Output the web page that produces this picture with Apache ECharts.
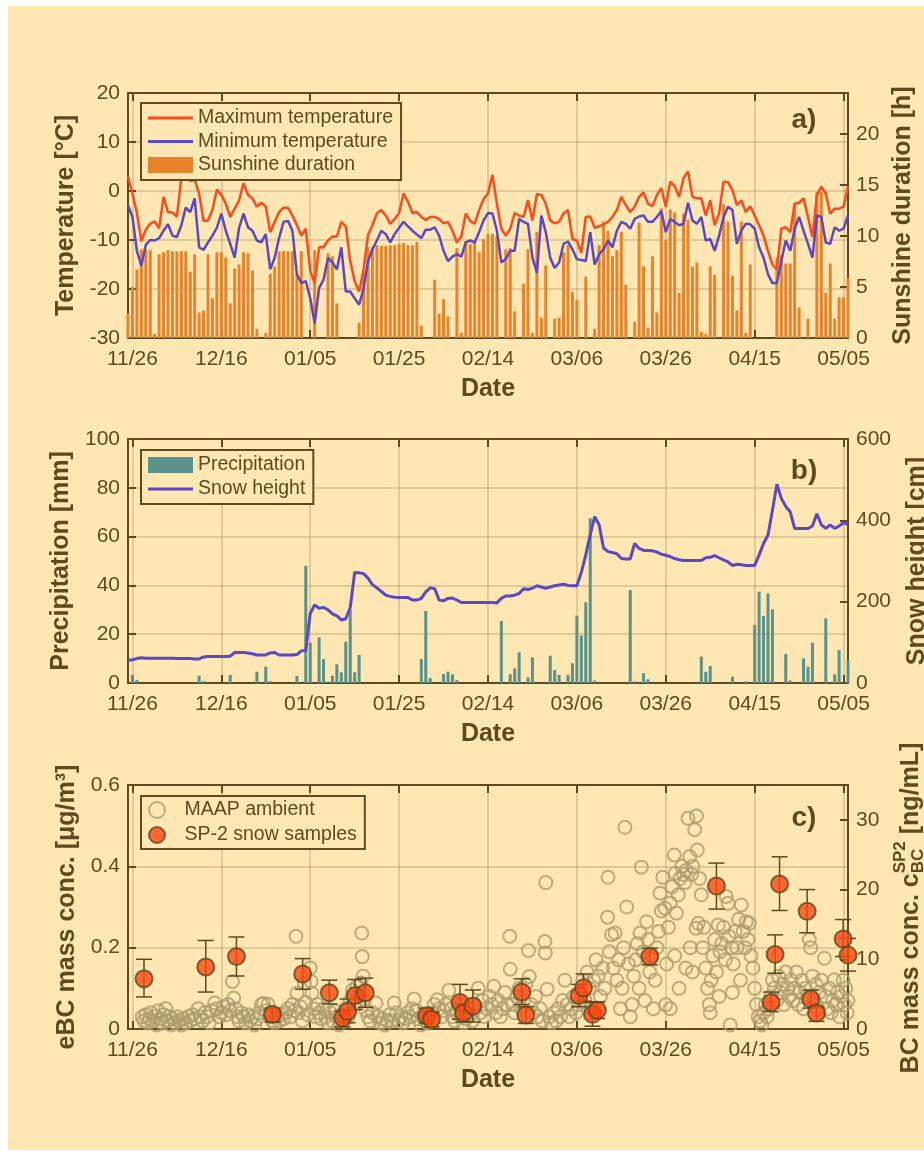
<!DOCTYPE html>
<html><head><meta charset="utf-8">
<script src="https://cdn.jsdelivr.net/npm/echarts@6/dist/echarts.min.js"></script>
<style>html,body{margin:0;padding:0;background:#fff;}#c{width:924px;height:1156px;}</style>
</head><body><div id="c"></div>
<script>
// ---------------- DATA ----------------
// daily series start on 11/25 (day -1 relative to 11/26) and end 05/06 (day 161)
const firstDay = -1;
const xTickDays = [0, 20, 40, 60, 80, 100, 120, 140, 160];
const xTickLabels = ['11/26', '12/16', '01/05', '01/25', '02/14', '03/06', '03/26', '04/15', '05/05'];

const tMax = [3.0,-0.5,-4.5,-10.2,-7.9,-6.7,-6.2,-7.6,-1.2,-4.3,-4.4,
 -5.2,2.6,4.0,2.0,2.3,-0.5,-6.1,-6.0,-3.9,0.3,
 -0.8,-2.6,-5.3,-3.6,-1.9,1.6,-0.8,-1.5,-3.2,-2.4,
 -3.2,-8.4,-6.3,-4.3,-3.4,-3.4,-5.0,-7.0,-9.1,-7.7,
 -16.3,-18.8,-11.5,-11.5,-10.1,-9.3,-9.3,-6.3,-7.2,-14.3,
 -18.4,-20.5,-16.0,-9.0,-7.0,-4.6,-3.9,-5.0,-6.7,-5.7,
 -4.5,-0.5,-2.2,-4.5,-4.3,-5.3,-5.9,-5.3,-5.3,-5.7,
 -6.6,-6.3,-8.1,-10.5,-9.3,-4.6,-6.1,-6.7,-3.9,-1.7,
 -0.5,3.3,-2.6,-7.7,-9.1,-7.7,-4.5,-5.0,-5.3,-1.9,
 -6.0,-0.6,-0.8,-2.6,-6.0,-6.6,-6.3,-4.6,-3.9,-9.8,
 -10.1,-12.6,-5.3,-5.2,-7.5,-7.2,-6.8,
 -6.3,-5.3,-3.9,-1.2,-2.9,-4.3,-3.2,-1.2,-0.3,-2.6,
 -3.1,-0.8,0.6,-3.2,1.9,1.0,-1.2,2.6,4.0,-1.2,
 -1.5,-1.5,-5.0,-1.9,-7.0,-4.6,1.9,1.8,0.2,-2.9,
 -1.9,-4.3,-3.1,-5.0,-7.0,-9.1,-12.2,-15.0,-16.0,-7.7,
 -7.4,-8.4,-2.6,-2.4,-1.5,-5.3,-9.4,-0.8,0.9,-0.5,
 -4.6,-3.6,-3.6,-3.2,0.9];

const tMin = [-2.9,-5.3,-12.2,-15.3,-11.0,-10.0,-10.1,-9.6,-8.1,-6.8,-9.1,
 -9.4,-7.0,-3.4,-4.3,-1.5,-11.5,-12.0,-10.5,-9.1,-7.5,
 -4.6,-8.1,-10.8,-13.6,-7.5,-4.6,-7.4,-8.1,-10.1,-10.5,
 -8.8,-16.0,-13.6,-9.6,-6.3,-6.1,-8.1,-17.0,-18.8,-18.4,
 -21.9,-27.0,-19.8,-18.1,-13.6,-14.6,-16.0,-11.5,-20.5,-20.5,
 -21.9,-23.2,-20.0,-14.3,-11.9,-10.1,-8.1,-8.8,-10.5,-8.8,
 -7.5,-6.3,-7.2,-8.1,-8.9,-9.6,-7.9,-7.9,-7.4,-9.1,
 -12.2,-14.3,-13.4,-12.9,-13.4,-10.5,-10.1,-10.5,-8.4,-6.0,
 -4.5,-4.6,-8.1,-14.6,-13.9,-12.2,-12.2,-5.7,-6.3,-6.7,
 -13.6,-16.7,-5.0,-8.4,-13.6,-15.7,-14.6,-10.8,-10.3,-11.9,
 -13.9,-14.1,-14.3,-8.4,-15.0,-12.9,-11.9,
 -10.1,-11.5,-8.1,-6.3,-6.7,-7.7,-5.7,-5.2,-5.0,-6.3,
 -6.3,-5.3,-4.1,-8.4,-5.7,-6.3,-7.0,-6.7,-2.4,-6.0,
 -6.7,-5.3,-10.1,-9.8,-12.2,-9.1,-5.3,-3.2,-3.9,-10.8,
 -8.1,-6.7,-6.8,-7.7,-11.5,-13.6,-17.0,-18.8,-18.8,-14.3,
 -10.1,-12.2,-7.7,-5.3,-8.1,-10.8,-13.6,-5.0,-5.3,-10.5,
 -10.8,-7.4,-8.1,-7.7,-5.0];

const sunshine = [2.4,5.0,6.7,8.7,8.7,8.6,0.4,8.2,8.4,8.6,
 8.5,8.5,8.5,8.5,6.5,8.2,2.5,2.7,8.2,3.9,
 8.4,8.4,7.9,3.4,6.8,7.2,8.4,8.3,6.6,0.9,
 0,0.5,6.3,7.0,8.5,8.5,8.5,8.5,6.3,8.5,
 0,0,8.6,0,0,8.3,8.0,3.4,0,0,
 0,0,1.5,6.5,8.9,8.9,9.1,9.0,9.0,9.1,
 9.1,9.2,9.3,9.1,9.1,9.4,1.2,0,0,5.7,
 2.4,3.8,2.1,0,8.8,0.5,9.5,9.2,9.4,8.4,
 9.7,10.2,10.2,10.0,0,8.7,8.8,2.6,0,5.3,
 8.7,0.5,10.4,2.0,7.1,0,1.9,2.0,8.4,9.1,
 4.5,3.7,0,6.0,0,0.9,9.1,11.4,10.5,8.0,
 8.6,10.4,5.2,0,1.6,11.3,7.0,1.0,8.0,2.5,
 12.7,9.6,12.6,12.3,4.4,12.2,11.6,7.0,7.4,0.6,
 0.4,7.0,6.2,0,13.1,11.4,6.1,2.7,11.4,0.5,
 7.2,0,0,0,0,0,7.9,8.1,7.3,7.3,
 13.1,3.0,0,1.9,0,14.3,14.3,4.4,7.3,1.9,
 4.0,4.0,5.9];

const precipitation = [0,3.3,1.2,0,0,0,0,0,0,0,
 0,0,0,0,0,0,3.0,0.8,0,0,
 0,0,0,3.3,0,0,0,0,0,4.6,
 0,6.7,0.8,0,0,0,0,0,2.9,0,
 48.0,16.5,0,18.7,9.8,0,3.0,7.7,4.4,16.9,
 30.0,4.4,11.5,0,0,0,0,0,0,0,
 0,0,0,0,0,0,9.8,29.5,2.0,0,
 0,3.7,4.6,3.6,1.2,0,0,0,0,0,
 0,0,0,0,25.4,0,3.6,6.0,12.6,0,
 2.3,10.5,0,0,0,11.2,5.3,3.3,0,3.3,
 8.1,27.6,19.5,33.1,67.5,1.0,0,0,0,0,
 0,0,0,38.1,0.7,0,4.0,1.5,0,0,
 0,0,0,0,0,0,0,0,0,10.8,
 4.6,7.0,0,0,0,0,2.6,0,0,0.7,
 0,23.8,37.4,27.5,36.7,30.2,0,0,11.9,1.0,
 0,0,10.1,6.7,16.5,0,0,26.5,0,3.6,
 13.5,0,9.4];

const snowHeight = [56,57,60,62,61,61,61,61,61,61,
 61,60,60,60,60,59,59,64,65,65,
 65,65,65,66,75,75,75,74,72,69,
 69,69,74,75,69,69,69,69,70,79,
 80,171,192,184,186,180,170,165,155,158,
 185,272,271,269,258,242,234,225,216,213,
 211,210,210,210,204,204,208,224,234,232,
 204,202,208,209,204,198,198,198,198,198,
 198,198,198,197,208,214,214,216,220,232,
 230,233,239,236,233,236,239,241,243,240,
 239,239,272,315,365,409,389,332,323,321,
 318,306,305,305,343,331,326,326,325,322,
 317,314,311,306,303,301,301,301,301,301,
 308,309,313,308,303,298,289,292,291,289,
 289,289,315,343,364,425,489,454,434,421,
 380,380,380,380,386,416,389,380,389,380,
 386,394,390];

// MAAP ambient eBC [day, ug/m3]
const maap = [[2.2,0.03],[2.6,0.02],[3.0,0.035],[3.4,0.015],[3.8,0.025],[4.2,0.04],[4.6,0.02],[5.0,0.03],[5.4,0.01],[5.8,0.045],[6.3,0.025],[6.7,0.015],[7.1,0.035],[7.5,0.05],[7.9,0.02],[8.3,0.03],[8.7,0.01],[9.1,0.025],[9.6,0.015],[10.0,0.03],
[10.5,0.02],[11.0,0.01],[11.5,0.025],[12.0,0.015],[12.5,0.03],[13.0,0.02],[13.5,0.035],[14.0,0.025],[14.8,0.05],[15.3,0.03],[15.8,0.02],[16.3,0.04],[16.8,0.03],[17.3,0.015],[17.8,0.045],[18.5,0.064],[19.0,0.05],[19.5,0.03],[20.0,0.04],
[20.5,0.055],[21.0,0.035],[21.5,0.06],[22.0,0.045],[22.5,0.117],[22.8,0.076],[23.2,0.05],[23.6,0.03],[24.0,0.02],[24.5,0.04],
[25.0,0.03],[25.5,0.015],[26.0,0.035],[26.5,0.02],[27.0,0.03],[27.5,0.01],[28.0,0.025],[28.5,0.04],[29.0,0.06],[29.5,0.063],[30.0,0.045],[30.5,0.061],[31.0,0.03],[31.5,0.02],[32.0,0.015],[32.5,0.03],[33.0,0.02],[33.5,0.035],[34.0,0.025],[34.5,0.04],
[35.0,0.05],[35.5,0.03],[36.0,0.06],[36.5,0.045],[36.8,0.228],[37.0,0.088],[37.3,0.04],[37.8,0.055],[38.2,0.02],[38.7,0.113],[39.0,0.065],[39.4,0.035],[40.0,0.15],[40.2,0.117],[40.4,0.088],[40.8,0.05],[41.2,0.03],[41.6,0.06],[42.0,0.04],
[42.5,0.025],[43.0,0.05],[43.5,0.03],[44.0,0.015],[44.5,0.04],[45.0,0.02],[45.5,0.045],[46.0,0.03],[46.5,0.01],[47.0,0.035],[47.5,0.02],[48.0,0.05],[48.5,0.03],[49.0,0.07],[49.5,0.095],[50.0,0.06],
[50.5,0.105],[51.0,0.08],[51.3,0.113],[51.6,0.236],[51.7,0.178],[51.9,0.13],[52.2,0.07],[52.6,0.045],[53.0,0.03],
[53.5,0.02],[54.0,0.04],[54.8,0.064],[55.3,0.03],[55.8,0.015],[56.3,0.025],[56.8,0.01],[57.3,0.02],[57.8,0.035],[58.3,0.02],[58.9,0.064],[59.4,0.04],[59.9,0.02],
[60.4,0.03],[60.9,0.015],[61.4,0.025],[61.9,0.04],[62.4,0.03],[62.9,0.05],[63.4,0.074],[63.9,0.045],[64.4,0.025],[64.9,0.01],[65.4,0.03],[65.9,0.02],[66.4,0.015],[66.9,0.035],[67.4,0.04],[67.9,0.06],[68.6,0.072],[69.0,0.05],[69.5,0.03],[70.0,0.045],[70.5,0.06],[71.2,0.095],[71.6,0.05],
[72.0,0.03],[72.5,0.02],[73.0,0.04],[73.5,0.06],[74.0,0.03],[74.5,0.015],[75.0,0.025],[75.5,0.05],[76.0,0.035],[76.5,0.02],[77.0,0.06],[77.8,0.1],[78.3,0.04],[78.8,0.07],[79.3,0.03],[79.8,0.05],[80.3,0.08],[80.8,0.06],[81.3,0.105],[81.8,0.04],[82.3,0.07],[82.8,0.03],[83.3,0.05],[83.8,0.09],[84.3,0.06],[84.9,0.228],[85.0,0.147],
[85.5,0.06],[86.0,0.04],[86.5,0.08],[87.0,0.1],[87.5,0.05],[88.0,0.07],[88.5,0.11],[89.1,0.193],[89.3,0.129],[89.7,0.06],[90.2,0.04],[90.7,0.08],[91.2,0.03],[91.7,0.05],[92.2,0.02],[92.8,0.215],[92.9,0.187],[93.0,0.36],[93.3,0.098],
[93.8,0.03],[94.3,0.015],[94.8,0.04],[95.3,0.02],[95.8,0.05],[96.3,0.03],[96.8,0.07],[97.3,0.12],[97.8,0.06],[98.3,0.03],[98.8,0.05],[99.3,0.08],[99.8,0.04],
[100.3,0.06],[100.8,0.09],[101.3,0.12],[101.8,0.07],[102.3,0.14],[102.8,0.1],[103.3,0.05],[103.8,0.12],[104.3,0.17],[104.8,0.13],[105.3,0.08],[105.8,0.15],[106.3,0.1],
[106.9,0.275],[107.0,0.373],[107.3,0.19],[107.8,0.232],[108.2,0.15],[108.6,0.236],[109.0,0.12],[109.4,0.17],[109.8,0.05],[110.2,0.1],[110.5,0.2],[110.8,0.496],[111.2,0.30],[111.6,0.16],[112.0,0.03],
[112.4,0.06],[112.8,0.13],[113.2,0.17],[113.6,0.21],[114.0,0.1],[114.2,0.236],[114.5,0.398],[114.9,0.19],[115.3,0.07],[115.7,0.264],[116.0,0.22],[116.4,0.14],[116.8,0.18],[117.2,0.05],[117.6,0.12],[118.0,0.2],[118.4,0.24],[118.7,0.334],[119.0,0.29],[119.3,0.373],[119.8,0.297],[120.2,0.16],
[120.6,0.25],[121.0,0.31],[121.4,0.35],[121.9,0.428],[122.1,0.383],[122.4,0.285],[122.8,0.33],[123.2,0.37],[123.6,0.4],[124.0,0.38],[124.3,0.36],[124.6,0.39],[125.0,0.518],[125.4,0.424],[125.8,0.38],[126.1,0.40],[126.5,0.49],[126.9,0.524],[127.1,0.44],[127.3,0.26],[126.8,0.248],[127.6,0.37],[128.0,0.33],[128.3,0.2],[128.6,0.25],
[121.0,0.05],[123.0,0.1],[124.5,0.15],[125.5,0.2],[126.0,0.14],[122.0,0.18],[120.0,0.06],
[129.0,0.15],[129.4,0.1],[129.8,0.06],[130.2,0.12],[130.6,0.18],[131.0,0.22],[131.4,0.14],[131.8,0.256],[132.2,0.19],[132.6,0.21],[133.0,0.25],[133.4,0.17],[133.6,0.326],[134.0,0.309],[134.2,0.228],[134.5,0.01],[134.8,0.2],[135.2,0.16],[135.6,0.24],[136.0,0.2],[136.4,0.27],[137.0,0.305],[137.4,0.24],[137.8,0.2],[138.1,0.264],[138.5,0.22],[138.8,0.26],[139.2,0.18],[139.6,0.15],[130.0,0.04],[132.0,0.08],[136.8,0.12],[135.0,0.09],
[140.0,0.1],[140.4,0.06],[140.8,0.03],[141.2,0.02],[141.6,0.01],[142.0,0.04],[142.4,0.06],[142.8,0.03],[143.2,0.05],[143.6,0.08],[144.0,0.12],[144.4,0.1],
[145.0,0.07],[145.4,0.13],[145.8,0.09],[146.2,0.11],[146.6,0.06],[147.0,0.14],[147.4,0.1],[147.8,0.08],[148.2,0.12],[148.6,0.07],[149.0,0.1],[149.4,0.14],[149.8,0.06],[150.2,0.09],[150.6,0.12],[151.0,0.05],[151.4,0.1],[151.8,0.08],[152.3,0.22],[152.6,0.2],[153.0,0.13],[153.4,0.07],[153.8,0.11],[154.2,0.05],[154.6,0.09],[155.0,0.12],
[155.7,0.174],[156.0,0.08],[156.4,0.05],[156.8,0.1],[157.2,0.04],[157.6,0.07],[157.9,0.121],[158.3,0.06],[158.7,0.09],[159.1,0.03],[159.5,0.08],[159.9,0.12],[160.2,0.06],[160.5,0.1],[160.8,0.04],[161.0,0.07]];

// SP-2 snow samples [day, value ng/mL, error low, error high]
const sp2 = [[2.6,7.2,4.6,10.0],[16.5,8.9,5.3,12.7],[23.4,10.4,7.6,13.2],[31.5,2.1,1.0,3.0],[38.3,7.9,5.7,10.1],
[44.3,5.2,3.6,7.0],[47.3,1.6,0.3,2.6],[48.4,2.5,0.9,4.3],[50.1,4.8,2.8,7.1],[52.4,5.2,3.1,7.3],
[66.2,1.9,0.9,3.0],[67.3,1.4,0.3,2.4],[73.7,3.8,1.4,6.4],[74.5,2.3,1.0,3.6],[76.6,3.3,1.0,5.6],
[87.6,5.3,3.5,7.2],[88.5,2.0,0.8,3.2],[100.5,4.8,3.2,6.4],[101.5,5.9,4.0,7.9],[103.5,2.1,0.4,3.8],[104.6,2.7,1.5,3.9],
[116.4,10.4,9.2,11.6],[131.4,20.5,17.2,23.8],[143.7,3.8,2.5,5.3],[144.6,10.7,8.0,13.5],[145.6,20.8,17.0,24.7],
[151.8,16.9,13.8,20.0],[152.6,4.3,3.0,5.6],[153.9,2.3,1.1,3.2],[159.9,12.9,10.4,15.7],[161.0,10.6,8.3,13.0]];

// right-axis tick labels
const sunTicks = [0, 5, 10, 15, 20];
const sp2Ticks = [0, 10, 20, 30];

// ---------------- STYLE ----------------
const F = '"Liberation Sans", Arial, Helvetica, sans-serif';
const BROWN = '#5E4A1C';
const GRIDC = 'rgba(110,90,40,0.2)';
const BG = '#FEE7B3';
const RED = '#FF4A1C', BLUE = '#5A48C4', ORANGE = '#E8832C', TEAL = '#5B928A';
// thin horizontal line inside a 45x16 legend box
const LINE_ICON = 'path://M0,0L0.01,0M0,6.5L45,6.5L45,9.5L0,9.5ZM45,16L44.99,16';

const daily = arr => arr.map((v, i) => [firstDay + i, v]);

function xAx(gi, bottom) {
  return {
    type: 'value', gridIndex: gi, min: -1, max: 161, position: bottom ? 'bottom' : 'top',
    axisLine: {show: true, onZero: false, lineStyle: {color: BROWN, width: 2}},
    axisTick: {show: true, inside: true, length: 8, customValues: xTickDays, lineStyle: {color: BROWN, width: 2}},
    axisLabel: {show: bottom, customValues: xTickDays, formatter: v => xTickLabels[xTickDays.indexOf(v)],
      color: BROWN, fontSize: 21, fontFamily: F, margin: 11},
    splitLine: {show: bottom, lineStyle: {color: GRIDC, width: 2}},
    name: bottom ? 'Date' : '', nameLocation: 'middle', nameGap: 39,
    nameTextStyle: {color: BROWN, fontSize: 25, fontWeight: 'bold', fontFamily: F}
  };
}
function yAx(gi, right, min, max, interval, name, custom, gap) {
  const o = {
    type: 'value', gridIndex: gi, min: min, max: max, position: right ? 'right' : 'left',
    axisLine: {show: true, onZero: false, lineStyle: {color: BROWN, width: 2}},
    axisTick: {show: true, inside: true, length: 8, lineStyle: {color: BROWN, width: 2}},
    axisLabel: {color: BROWN, fontSize: 21, fontFamily: F, margin: 8},
    splitLine: {show: !right, lineStyle: {color: GRIDC, width: 2}},
    name: name, nameLocation: 'middle', nameRotate: 90, nameGap: gap,
    nameTextStyle: {color: BROWN, fontSize: 25, fontWeight: 'bold', fontFamily: F}
  };
  if (interval) o.interval = interval;
  if (custom) { o.axisTick.customValues = custom; o.axisLabel.customValues = custom; }
  return o;
}
function legend(items, top, padding, gap) {
  return {
    show: true, orient: 'vertical', left: 141, top: top, data: items,
    backgroundColor: BG, borderColor: BROWN, borderWidth: 2, borderRadius: 0,
    padding: padding, itemGap: gap, itemWidth: 45, itemHeight: 16,
    textStyle: {color: BROWN, fontSize: 19.5, fontFamily: F, lineHeight: 20}, selectedMode: false
  };
}

// measure texts for the composed right title of panel c
const mctx = document.createElement('canvas').getContext('2d');
function tw(t, size) { mctx.font = 'bold ' + size + 'px ' + F; return mctx.measureText(t).width; }
const t1 = 'BC mass conc. c', t3 = ' [ng/mL]';
const w1 = tw(t1, 25), wsup = tw('SP2', 17), wsub = tw('BC', 17), w3 = tw(t3, 25);
const wMid = Math.max(wsup, wsub);
const W = w1 + wMid + w3;
const x0 = -W / 2;
const txt = (t, x, y, size, align) => ({type: 'text', x: x, y: y, style: {text: t, font: 'bold ' + size + 'px ' + F, fill: BROWN,
  textAlign: align, textVerticalAlign: 'middle', align: align, verticalAlign: 'middle'}});

const chart = echarts.init(document.getElementById('c'), null, {renderer: 'canvas'});
chart.setOption({
  animation: false,
  backgroundColor: '#ffffff',
  graphic: [
    {type: 'rect', z: -10, shape: {x: 8, y: 6, width: 916, height: 1144}, style: {fill: BG}},
    Object.assign(txt('a)', 804, 120, 28, 'center'), {z: 10}),
    Object.assign(txt('b)', 804, 471, 28, 'center'), {z: 10}),
    Object.assign(txt('c)', 804, 818, 28, 'center'), {z: 10}),
    {type: 'group', x: 911, y: 908, rotation: Math.PI / 2, children: [
      txt(t1, x0, 0, 25, 'left'),
      txt('SP2', x0 + w1, -11, 17, 'left'),
      txt('BC', x0 + w1, 7, 17, 'left'),
      txt(t3, x0 + w1 + wMid, 0, 25, 'left')
    ]}
  ],
  grid: [
    {left: 128, width: 720, top: 93, height: 245, outerBoundsMode: 'none', containLabel: false},
    {left: 128, width: 720, top: 439, height: 244, outerBoundsMode: 'none', containLabel: false},
    {left: 128, width: 720, top: 785, height: 244, outerBoundsMode: 'none', containLabel: false}
  ],
  xAxis: [xAx(0, true), xAx(0, false), xAx(1, true), xAx(1, false), xAx(2, true), xAx(2, false)],
  yAxis: [
    yAx(0, false, -30, 20, 10, 'Temperature [°C]', null, 36),
    yAx(0, true, 0, 24, null, 'Sunshine duration [h]', sunTicks, 42),
    yAx(1, false, 0, 100, 20, 'Precipitation [mm]', null, 36),
    yAx(1, true, 0, 600, 200, 'Snow height [cm]', null, 57),
    yAx(2, false, 0, 0.6, 0.2, 'eBC mass conc. [μg/m³]', null, 33),
    yAx(2, true, 0, 35, null, '', sp2Ticks, 40)
  ],
  legend: [
    legend([{name: 'Maximum temperature', icon: LINE_ICON, itemStyle: {color: RED}},
            {name: 'Minimum temperature', icon: LINE_ICON, itemStyle: {color: BLUE}},
            {name: 'Sunshine duration', icon: 'rect', itemStyle: {color: ORANGE}}], 103, [5, 8, 5, 7], 3.5),
    legend([{name: 'Precipitation', icon: 'rect', itemStyle: {color: TEAL}},
            {name: 'Snow height', icon: LINE_ICON, itemStyle: {color: BLUE}}], 450, [5, 8, 5, 7], 4),
    legend([{name: 'MAAP ambient', icon: 'circle'}, {name: 'SP-2 snow samples', icon: 'circle'}], 796, [4, 8, 4, 7], 5)
  ],
  series: [
    {name: 'Sunshine duration', type: 'bar', xAxisIndex: 0, yAxisIndex: 1, data: daily(sunshine), barWidth: 3,
      itemStyle: {color: ORANGE}, clip: true, silent: true},
    {name: 'Maximum temperature', type: 'line', xAxisIndex: 0, yAxisIndex: 0, data: daily(tMax), symbol: 'none', showSymbol: false,
      lineStyle: {color: RED, width: 2.5}, itemStyle: {color: RED}, silent: true, z: 3},
    {name: 'Minimum temperature', type: 'line', xAxisIndex: 0, yAxisIndex: 0, data: daily(tMin), symbol: 'none', showSymbol: false,
      lineStyle: {color: BLUE, width: 2.5}, itemStyle: {color: BLUE}, silent: true, z: 3},
    {name: 'Precipitation', type: 'bar', xAxisIndex: 2, yAxisIndex: 2, data: daily(precipitation), barWidth: 3,
      itemStyle: {color: TEAL}, clip: true, silent: true},
    {name: 'Snow height', type: 'line', xAxisIndex: 2, yAxisIndex: 3, data: daily(snowHeight), symbol: 'none', showSymbol: false,
      lineStyle: {color: BLUE, width: 3}, itemStyle: {color: BLUE}, silent: true, z: 3},
    {name: 'MAAP ambient', type: 'scatter', xAxisIndex: 4, yAxisIndex: 4, data: maap, symbolSize: 13, clip: false,
      itemStyle: {color: 'rgba(0,0,0,0)', borderColor: '#AE9C6E', borderWidth: 2}, silent: true, z: 2},
    {name: 'SP2 error', type: 'custom', xAxisIndex: 4, yAxisIndex: 5, data: sp2, silent: true, z: 3,
      renderItem: function (params, api) {
        const x = api.value(0), lo = api.value(2), hi = api.value(3);
        const a = api.coord([x, lo]), b = api.coord([x, hi]);
        const hw = 8, st = {stroke: BROWN, lineWidth: 1.5};
        return {type: 'group', children: [
          {type: 'line', shape: {x1: a[0], y1: a[1], x2: b[0], y2: b[1]}, style: st},
          {type: 'line', shape: {x1: a[0] - hw, y1: a[1], x2: a[0] + hw, y2: a[1]}, style: st},
          {type: 'line', shape: {x1: b[0] - hw, y1: b[1], x2: b[0] + hw, y2: b[1]}, style: st}
        ]};
      }},
    {name: 'SP-2 snow samples', type: 'scatter', xAxisIndex: 4, yAxisIndex: 5, data: sp2.map(d => [d[0], d[1]]), symbolSize: 17, clip: false,
      itemStyle: {color: '#FF4812', borderColor: BROWN, borderWidth: 2}, silent: true, z: 4}
  ]
});
</script></body></html>
